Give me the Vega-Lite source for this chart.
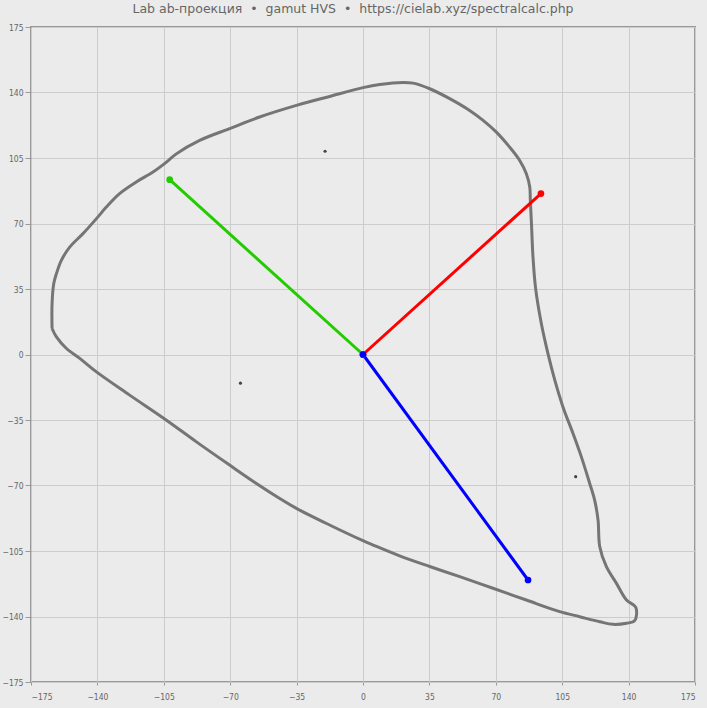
{
  "$schema": "https://vega.github.io/schema/vega-lite/v6.json",
  "width": 664,
  "height": 655,
  "autosize": {"type": "none"},
  "padding": {"left": 31, "top": 27, "right": 12, "bottom": 26},
  "background": "#ebebeb",
  "title": {
    "text": "Lab ab-проекция \u00a0•\u00a0 gamut HVS \u00a0•\u00a0 https://cielab.xyz/spectralcalc.php",
    "fontSize": 12.5,
    "font": "DejaVu Sans",
    "fontWeight": "normal",
    "color": "#666666",
    "offset": 8,
    "dx": -10
  },
  "config": {
    "view": {"stroke": "#999999", "strokeWidth": 2, "fill": "#ebebeb"},
    "axis": {
      "gridColor": "#cccccc",
      "gridWidth": 1,
      "domain": false,
      "labelFont": "DejaVu Sans Condensed, Liberation Sans",
      "labelFontSize": 8.5,
      "labelColor": "#666666",
      "tickColor": "#999999",
      "title": null
    }
  },
  "datasets": {
    "gamut": [
      {"o": 1, "a": -163.9, "b": 13.9},
      {"o": 2, "a": -163.9, "b": 27.2},
      {"o": 3, "a": -163.0, "b": 37.9},
      {"o": 4, "a": -161.6, "b": 43.2},
      {"o": 5, "a": -159.0, "b": 50.3},
      {"o": 6, "a": -154.6, "b": 57.4},
      {"o": 7, "a": -147.6, "b": 64.6},
      {"o": 8, "a": -140.5, "b": 72.6},
      {"o": 9, "a": -135.3, "b": 78.8},
      {"o": 10, "a": -128.3, "b": 86.0},
      {"o": 11, "a": -119.5, "b": 92.2},
      {"o": 12, "a": -110.7, "b": 97.5},
      {"o": 13, "a": -103.6, "b": 102.8},
      {"o": 14, "a": -98.4, "b": 107.2},
      {"o": 15, "a": -86.1, "b": 114.4},
      {"o": 16, "a": -70.3, "b": 120.7},
      {"o": 17, "a": -54.5, "b": 126.9},
      {"o": 18, "a": -35.1, "b": 133.1},
      {"o": 19, "a": -17.6, "b": 137.9},
      {"o": 20, "a": 0.0, "b": 142.6},
      {"o": 21, "a": 8.8, "b": 144.3},
      {"o": 22, "a": 21.1, "b": 145.4},
      {"o": 23, "a": 26.4, "b": 145.0},
      {"o": 24, "a": 35.2, "b": 142.0},
      {"o": 25, "a": 45.7, "b": 136.7},
      {"o": 26, "a": 56.2, "b": 130.4},
      {"o": 27, "a": 63.3, "b": 125.1},
      {"o": 28, "a": 70.3, "b": 118.8},
      {"o": 29, "a": 77.3, "b": 110.8},
      {"o": 30, "a": 82.6, "b": 103.7},
      {"o": 31, "a": 86.1, "b": 96.6},
      {"o": 32, "a": 87.9, "b": 89.5},
      {"o": 33, "a": 88.2, "b": 82.4},
      {"o": 34, "a": 88.8, "b": 69.9},
      {"o": 35, "a": 89.6, "b": 52.1},
      {"o": 36, "a": 91.0, "b": 35.2},
      {"o": 37, "a": 94.0, "b": 16.6},
      {"o": 38, "a": 97.5, "b": 0.5},
      {"o": 39, "a": 101.1, "b": -13.7},
      {"o": 40, "a": 105.4, "b": -28.0},
      {"o": 41, "a": 110.7, "b": -42.2},
      {"o": 42, "a": 115.1, "b": -54.7},
      {"o": 43, "a": 119.5, "b": -68.9},
      {"o": 44, "a": 122.1, "b": -77.8},
      {"o": 45, "a": 123.9, "b": -88.5},
      {"o": 46, "a": 124.8, "b": -102.7},
      {"o": 47, "a": 128.3, "b": -113.4},
      {"o": 48, "a": 133.6, "b": -122.3},
      {"o": 49, "a": 138.9, "b": -131.2},
      {"o": 50, "a": 143.8, "b": -135.1},
      {"o": 51, "a": 143.2, "b": -142.2},
      {"o": 52, "a": 138.9, "b": -143.6},
      {"o": 53, "a": 131.8, "b": -144.2},
      {"o": 54, "a": 124.8, "b": -142.8},
      {"o": 55, "a": 114.2, "b": -140.1},
      {"o": 56, "a": 103.7, "b": -137.4},
      {"o": 57, "a": 86.1, "b": -131.2},
      {"o": 58, "a": 68.5, "b": -124.9},
      {"o": 59, "a": 51.0, "b": -118.7},
      {"o": 60, "a": 35.2, "b": -113.3},
      {"o": 61, "a": 19.3, "b": -107.6},
      {"o": 62, "a": 5.3, "b": -101.8},
      {"o": 63, "a": 0.0, "b": -99.5},
      {"o": 64, "a": -17.6, "b": -91.1},
      {"o": 65, "a": -35.1, "b": -82.2},
      {"o": 66, "a": -43.9, "b": -76.9},
      {"o": 67, "a": -56.2, "b": -68.9},
      {"o": 68, "a": -70.3, "b": -59.1},
      {"o": 69, "a": -87.8, "b": -46.7},
      {"o": 70, "a": -103.6, "b": -35.1},
      {"o": 71, "a": -123.0, "b": -21.7},
      {"o": 72, "a": -140.5, "b": -9.3},
      {"o": 73, "a": -149.3, "b": -2.1},
      {"o": 74, "a": -156.3, "b": 3.2},
      {"o": 75, "a": -161.6, "b": 9.4},
      {"o": 76, "a": -163.9, "b": 13.9}
    ],
    "vectors": [
      {"s": "red", "o": 0, "a": 0, "b": 0},
      {"s": "red", "o": 1, "a": 93.8, "b": 86.0},
      {"s": "green", "o": 0, "a": 0, "b": 0},
      {"s": "green", "o": 1, "a": -101.9, "b": 93.4},
      {"s": "zblue", "o": 0, "a": 0, "b": 0},
      {"s": "zblue", "o": 1, "a": 87.0, "b": -120.5}
    ],
    "dots": [
      {"a": -20.0, "b": 108.6},
      {"a": -64.6, "b": -15.3},
      {"a": 112.1, "b": -65.3}
    ]
  },
  "layer": [
    {
      "data": {"name": "gamut"},
      "mark": {"type": "line", "color": "#757575", "strokeWidth": 3, "interpolate": "catmull-rom", "strokeJoin": "round"},
      "encoding": {
        "x": {"field": "a", "type": "quantitative", "scale": {"domain": [-175, 175], "nice": false, "zero": false},
              "axis": {"values": [-175, -140, -105, -70, -35, 0, 35, 70, 105, 140, 175], "tickSize": 3, "labelPadding": 7}},
        "y": {"field": "b", "type": "quantitative", "scale": {"domain": [-175, 175], "nice": false, "zero": false},
              "axis": {"values": [-175, -140, -105, -70, -35, 0, 35, 70, 105, 140, 175], "tickSize": 6, "labelPadding": 2}},
        "order": {"field": "o", "type": "quantitative"}
      }
    },
    {
      "data": {"name": "vectors"},
      "mark": {"type": "line", "strokeWidth": 3},
      "encoding": {
        "x": {"field": "a", "type": "quantitative"},
        "y": {"field": "b", "type": "quantitative"},
        "order": {"field": "o", "type": "quantitative"},
        "color": {"field": "s", "type": "nominal", "legend": null,
                  "scale": {"domain": ["red", "green", "zblue"], "range": ["#ff0000", "#22cc00", "#0000ff"]}}
      }
    },
    {
      "data": {"name": "vectors"},
      "mark": {"type": "circle", "size": 45, "opacity": 1},
      "encoding": {
        "x": {"field": "a", "type": "quantitative"},
        "y": {"field": "b", "type": "quantitative"},
        "color": {"field": "s", "type": "nominal", "legend": null}
      }
    },
    {
      "data": {"name": "dots"},
      "mark": {"type": "circle", "size": 10, "color": "#444444", "opacity": 1},
      "encoding": {
        "x": {"field": "a", "type": "quantitative"},
        "y": {"field": "b", "type": "quantitative"}
      }
    }
  ]
}
